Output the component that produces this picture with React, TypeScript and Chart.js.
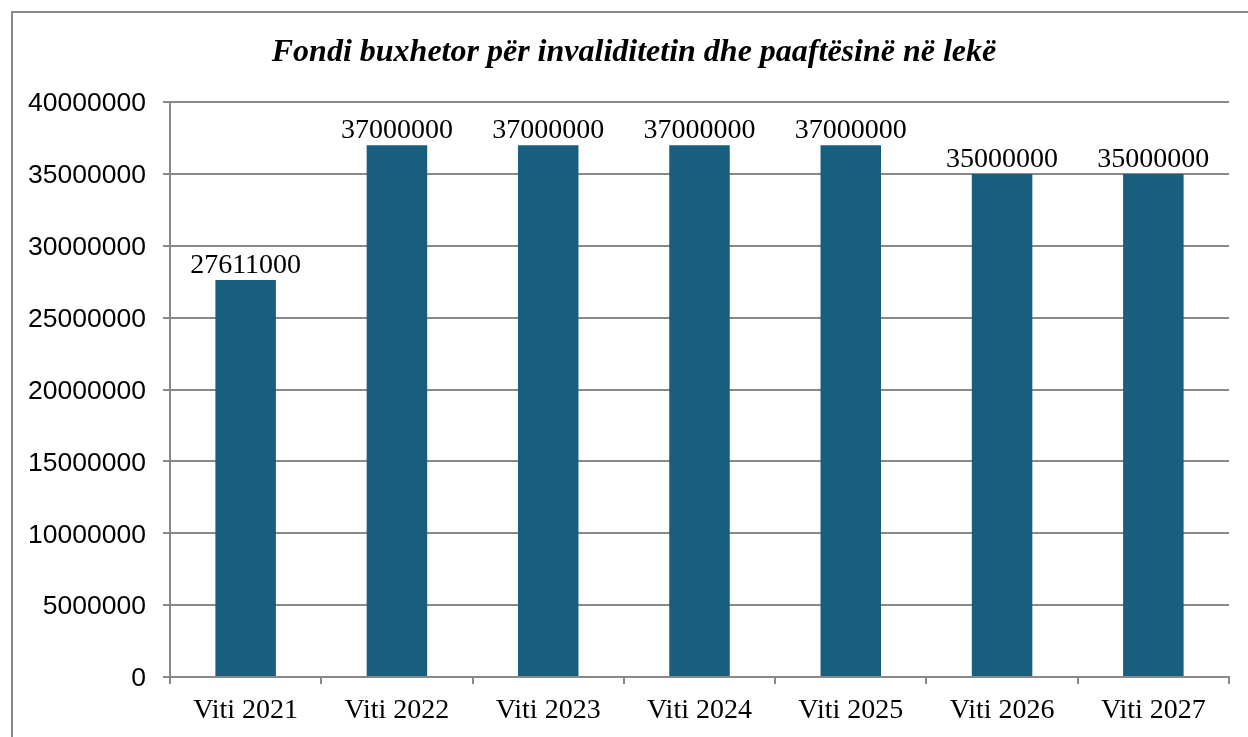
import React, { useEffect, useRef } from "react";
import { Chart, registerables } from "chart.js";

Chart.register(...registerables);

const TITLE = "Fondi buxhetor për invaliditetin dhe paaftësinë në lekë";
const categories = ["Viti 2021", "Viti 2022", "Viti 2023", "Viti 2024", "Viti 2025", "Viti 2026", "Viti 2027"];
const values = [27611000, 37000000, 37000000, 37000000, 37000000, 35000000, 35000000];
const yMin = 0;
const yMax = 40000000;
const yStep = 5000000;

const GRID = "#898989";
const BAR = "#175E7F";

export default function App() {
  const ref = useRef<HTMLCanvasElement | null>(null);

  useEffect(() => {
    const canvas = ref.current;
    if (!canvas) return;

    const framePlugin = {
      id: "frame",
      beforeDraw(chart: any) {
        const ctx = chart.ctx;
        ctx.save();
        ctx.fillStyle = "#ffffff";
        ctx.fillRect(0, 0, chart.width, chart.height);
        ctx.strokeStyle = GRID;
        ctx.lineWidth = 2;
        ctx.strokeRect(12, 12, chart.width + 20, chart.height + 20);
        ctx.fillStyle = "#000";
        ctx.font = "italic bold 32px 'Liberation Serif', 'Times New Roman', serif";
        ctx.textAlign = "center";
        ctx.textBaseline = "alphabetic";
        ctx.fillText(TITLE, 634, 61);
        ctx.restore();
      },
    };

    const labelPlugin = {
      id: "barLabels",
      afterDatasetsDraw(chart: any) {
        const ctx = chart.ctx;
        const meta = chart.getDatasetMeta(0);
        ctx.save();
        ctx.fillStyle = "#000";
        ctx.font = "28px 'Liberation Serif', 'Times New Roman', serif";
        ctx.textAlign = "center";
        ctx.textBaseline = "alphabetic";
        meta.data.forEach((el: any, i: number) => {
          ctx.fillText(String(values[i]), el.x, el.y - 7);
        });
        ctx.restore();
      },
    };

    const chart = new Chart(canvas, {
      type: "bar",
      data: {
        labels: categories,
        datasets: [
          {
            data: values,
            backgroundColor: BAR,
            borderWidth: 0,
            barPercentage: 0.4,
            categoryPercentage: 1,
          },
        ],
      },
      options: {
        animation: false,
        responsive: false,
        maintainAspectRatio: false,
        devicePixelRatio: 1,
        layout: { padding: { left: 0, top: 102, right: 19, bottom: 0 } },
        plugins: {
          legend: { display: false },
          title: { display: false },
          tooltip: { enabled: false },
        },
        scales: {
          x: {
            offset: true,
            grid: {
              display: true,
              offset: true,
              drawOnChartArea: false,
              drawTicks: true,
              tickLength: 7,
              color: GRID,
              lineWidth: 2,
            },
            border: { display: true, color: GRID, width: 2 },
            ticks: {
              color: "#000",
              font: { family: "'Liberation Serif', 'Times New Roman', serif", size: 28 },
              padding: 10,
              maxRotation: 0,
              autoSkip: false,
            },
            afterFit(scale: any) {
              scale.height = 60;
            },
          },
          y: {
            min: yMin,
            max: yMax,
            grid: {
              display: true,
              drawOnChartArea: true,
              drawTicks: true,
              tickLength: 7,
              color: GRID,
              lineWidth: 2,
            },
            border: { display: true, color: GRID, width: 2 },
            ticks: {
              stepSize: yStep,
              color: "#000",
              font: { family: "'Liberation Sans', Arial, sans-serif", size: 26.5 },
              padding: 17,
              labelOffset: 2,
              callback: (v: any) => String(v),
            },
            afterFit(scale: any) {
              scale.width = 170;
            },
          },
        },
      },
      plugins: [framePlugin, labelPlugin],
    });

    return () => chart.destroy();
  }, []);

  return (
    <div style={{ position: "fixed", left: 0, top: 0, width: 1248, height: 737, background: "#fff", overflow: "hidden" }}>
      <canvas ref={ref} width={1248} height={737} style={{ display: "block", width: 1248, height: 737 }} />
    </div>
  );
}
